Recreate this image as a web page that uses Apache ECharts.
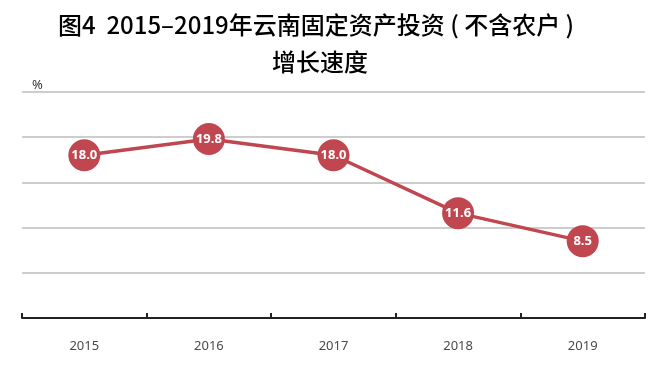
<!DOCTYPE html>
<html>
<head>
<meta charset="utf-8">
<script src="https://cdn.jsdelivr.net/npm/echarts@6/dist/echarts.min.js"></script>
<style>html,body{margin:0;padding:0;background:#fff;}#c{width:670px;height:383px;}</style>
</head>
<body>
<div id="c"></div>
<script>
var titleLine1 = '图4  2015–2019年云南固定资产投资 ( 不含农户 )';
var titleLine2 = '增长速度';
var years = ['2015', '2016', '2017', '2018', '2019'];
var growth = [18.0, 19.8, 18.0, 11.6, 8.5];
var unitLabel = '%';

var chart = echarts.init(document.getElementById('c'));
chart.setOption({
  backgroundColor: '#fff',
  animation: false,
  title: [
    { text: titleLine1, left: 311, top: 8, textAlign: 'center',
      textStyle: { fontFamily: 'Noto Sans CJK SC', fontSize: 24, fontWeight: 500, color: '#000' } },
    { text: titleLine2, left: 315, top: 45, textAlign: 'center',
      textStyle: { fontFamily: 'Noto Sans CJK SC', fontSize: 24, fontWeight: 500, color: '#000' } }
  ],
  grid: { left: 22, right: 25, top: 92, bottom: 65, containLabel: false },
  xAxis: {
    type: 'category',
    data: years,
    boundaryGap: true,
    axisLine: { lineStyle: { color: '#222', width: 2 } },
    axisTick: { show: true, inside: true, length: 5, lineStyle: { color: '#222', width: 2 } },
    axisLabel: { color: '#4a4a4a', fontSize: 13, margin: 22, fontFamily: 'Noto Sans' }
  },
  yAxis: {
    type: 'value',
    min: 0, max: 25, interval: 5,
    name: unitLabel,
    nameLocation: 'end',
    nameGap: 0,
    nameTextStyle: { color: '#333', fontSize: 13, align: 'left', padding: [0, 0, 0, 10], fontFamily: 'Noto Sans' },
    axisLine: { show: false },
    axisTick: { show: false },
    axisLabel: { show: false },
    splitLine: { lineStyle: { color: '#bdbdbd', width: 1.5 } }
  },
  series: [{
    type: 'line',
    data: growth,
    symbol: 'circle',
    symbolSize: 32,
    itemStyle: { color: '#c0474f' },
    lineStyle: { color: '#c0474f', width: 3.5 },
    label: {
      show: true, position: 'inside', color: '#fff', fontWeight: 'bold', fontSize: 13,
      fontFamily: 'Noto Sans',
      formatter: function (p) { return p.value.toFixed(1); }
    },
    z: 3
  }]
});
</script>
</body>
</html>
